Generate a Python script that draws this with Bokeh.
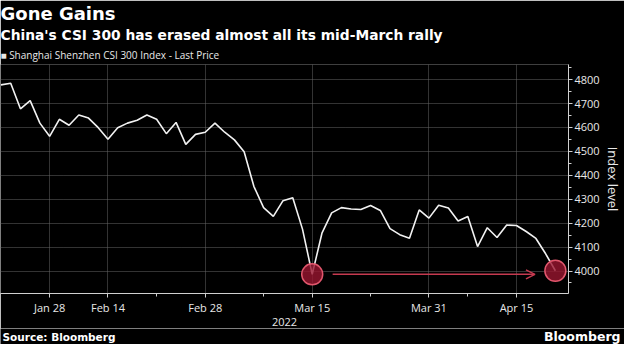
from bokeh.plotting import figure
from bokeh.layouts import column
from bokeh.models import Range1d, FixedTicker, Title, Label, Arrow, OpenHead
from bokeh.embed import file_html
from bokeh.resources import INLINE

# ---------------- data ----------------
dates = ["Jan 21", "Jan 24", "Jan 25", "Jan 26", "Jan 27", "Jan 28",
         "Feb 7", "Feb 8", "Feb 9", "Feb 10", "Feb 11", "Feb 14",
         "Feb 15", "Feb 16", "Feb 17", "Feb 18", "Feb 21", "Feb 22",
         "Feb 23", "Feb 24", "Feb 25", "Feb 28", "Mar 1", "Mar 2",
         "Mar 3", "Mar 4", "Mar 7", "Mar 8", "Mar 9", "Mar 10",
         "Mar 11", "Mar 14", "Mar 15", "Mar 16", "Mar 17", "Mar 18",
         "Mar 21", "Mar 22", "Mar 23", "Mar 24", "Mar 25", "Mar 28",
         "Mar 29", "Mar 30", "Mar 31", "Apr 1", "Apr 6", "Apr 7",
         "Apr 8", "Apr 11", "Apr 12", "Apr 13", "Apr 14", "Apr 15",
         "Apr 18", "Apr 19", "Apr 20", "Apr 21"]
values = [4778, 4785, 4678, 4712, 4618, 4563,
          4634, 4609, 4652, 4639, 4599, 4551,
          4599, 4618, 4630, 4652, 4634, 4574,
          4621, 4529, 4571, 4580, 4618, 4580,
          4548, 4498, 4354, 4265, 4228, 4294,
          4306, 4175, 3986, 4158, 4243, 4265,
          4259, 4257, 4274, 4253, 4177, 4152,
          4137, 4255, 4221, 4275, 4263, 4209,
          4228, 4102, 4181, 4140, 4192, 4190,
          4165, 4136, 4072, 4001]
x_tick_labels = ["Jan 28", "Feb 14", "Feb 28", "Mar 15", "Mar 31", "Apr 15"]
x_minor_dates = ["Feb 21", "Mar 8", "Mar 23", "Apr 8"]
y_ticks = [4000, 4100, 4200, 4300, 4400, 4500, 4600, 4700, 4800]
y_minor_ticks = [3950, 4050, 4150, 4250, 4350, 4450, 4550, 4650, 4750, 4850]
highlight_dates = ["Mar 15", "Apr 21"]
year_label = "2022"
title_text = "Gone Gains"
subtitle_text = "China's CSI 300 has erased almost all its mid-March rally"
legend_text = "Shanghai Shenzhen CSI 300 Index - Last Price"
y_label = "Index level"
source_text = "Source: Bloomberg"
brand_text = "Bloomberg"

# ---------------- main figure ----------------
idx = list(range(len(dates)))
TXT = "#e8e8e8"
W, H_MAIN, H_FOOT = 624, 328, 16

p = figure(width=W, height=H_MAIN, output_backend="svg", toolbar_location=None,
           x_range=Range1d(-0.05, 58.35), y_range=Range1d(3906, 4863),
           y_axis_location="right",
           background_fill_color="black", border_fill_color="black",
           outline_line_color=None,
           min_border_left=0, min_border_right=0, min_border_top=0,
           min_border_bottom=0)
p.frame_align = False

# titles (added from nearest-to-plot outward)
p.add_layout(Title(text="\u25A0 " + legend_text, align="left",
                   text_font="Open Sans", text_font_size="10px",
                   text_font_style="normal", text_color=TXT,
                   standoff=5, offset=0), "above")
p.add_layout(Title(text=subtitle_text, align="left", text_font="DejaVu Sans",
                   text_font_size="13.8px", text_font_style="bold",
                   text_color="white", standoff=2, offset=0), "above")
p.add_layout(Title(text=title_text, align="left", text_font="DejaVu Sans",
                   text_font_size="18px", text_font_style="bold",
                   text_color="white", standoff=0, offset=0), "above")

# grids
p.xgrid.grid_line_color = "#666666"
p.xgrid.grid_line_dash = "1 1"
p.ygrid.grid_line_color = "#666666"
p.ygrid.grid_line_dash = "1 1"

# x axis
major_x = [dates.index(d) for d in x_tick_labels]
minor_x = [dates.index(d) for d in x_minor_dates]
p.xaxis.ticker = FixedTicker(ticks=major_x, minor_ticks=minor_x)
p.xaxis.major_label_overrides = {i: l for i, l in zip(major_x, x_tick_labels)}
p.xaxis.axis_label = year_label
for ax in (p.xaxis, p.yaxis):
    ax.axis_line_color = "#d0d0d0"
    ax.major_tick_line_color = "#d0d0d0"
    ax.minor_tick_line_color = "#d0d0d0"
    ax.major_tick_in = 0
    ax.major_tick_out = 4
    ax.minor_tick_in = 0
    ax.minor_tick_out = 3
    ax.major_label_text_color = TXT
    ax.major_label_text_font = "Open Sans"
    ax.major_label_text_font_size = "11px"
    ax.axis_label_text_color = TXT
    ax.axis_label_text_font = "Open Sans"
    ax.axis_label_text_font_style = "normal"
p.xaxis.major_label_standoff = 2
p.xaxis.axis_label_text_font_size = "11px"
p.xaxis.axis_label_standoff = 0

# y axis (label drawn as a side title to keep the panel narrow)
p.yaxis.ticker = FixedTicker(ticks=y_ticks, minor_ticks=y_minor_ticks)
p.yaxis.major_label_standoff = 2
p.add_layout(Title(text=y_label, align="center", text_font="Open Sans",
                   text_font_size="13px", text_font_style="normal",
                   text_color=TXT, standoff=2), "right")

# price line
p.line(idx, values, line_color="#f2f2f2", line_width=1.6)

# highlight markers and arrow
hi = [dates.index(d) for d in highlight_dates]
p.scatter([hi[0], hi[1]], [values[hi[0]], values[hi[1]]], size=21,
          fill_color="#9a1530", fill_alpha=0.8,
          line_color="#e0566c", line_width=1.5)
p.add_layout(Arrow(x_start=hi[0] + 2.1, y_start=values[hi[0]],
                   x_end=hi[1] - 2.1, y_end=values[hi[0]],
                   line_color="#c63a50", line_width=1.5,
                   end=OpenHead(size=9, line_color="#c63a50", line_width=1.5)))

# ---------------- footer ----------------
f = figure(width=W, height=H_FOOT, output_backend="svg", toolbar_location=None,
           x_range=Range1d(0, W), y_range=Range1d(0, H_FOOT),
           background_fill_color="black", border_fill_color="black",
           outline_line_color=None, min_border=0,
           x_axis_location=None, y_axis_location=None)
f.frame_align = False
f.grid.visible = False
f.add_layout(Label(x=2, y=H_FOOT / 2, x_units="screen", y_units="screen",
                   text=source_text, text_baseline="middle",
                   text_font="DejaVu Sans", text_font_size="10.5px",
                   text_font_style="bold", text_color="white"))
f.add_layout(Label(x=W - 4, y=H_FOOT / 2, x_units="screen", y_units="screen",
                   text=brand_text, text_align="right", text_baseline="middle",
                   text_font="DejaVu Sans", text_font_size="12.5px",
                   text_font_style="bold", text_color="white"))

layout = column(p, f, spacing=0)
open("out.html", "w").write(file_html(layout, INLINE))
